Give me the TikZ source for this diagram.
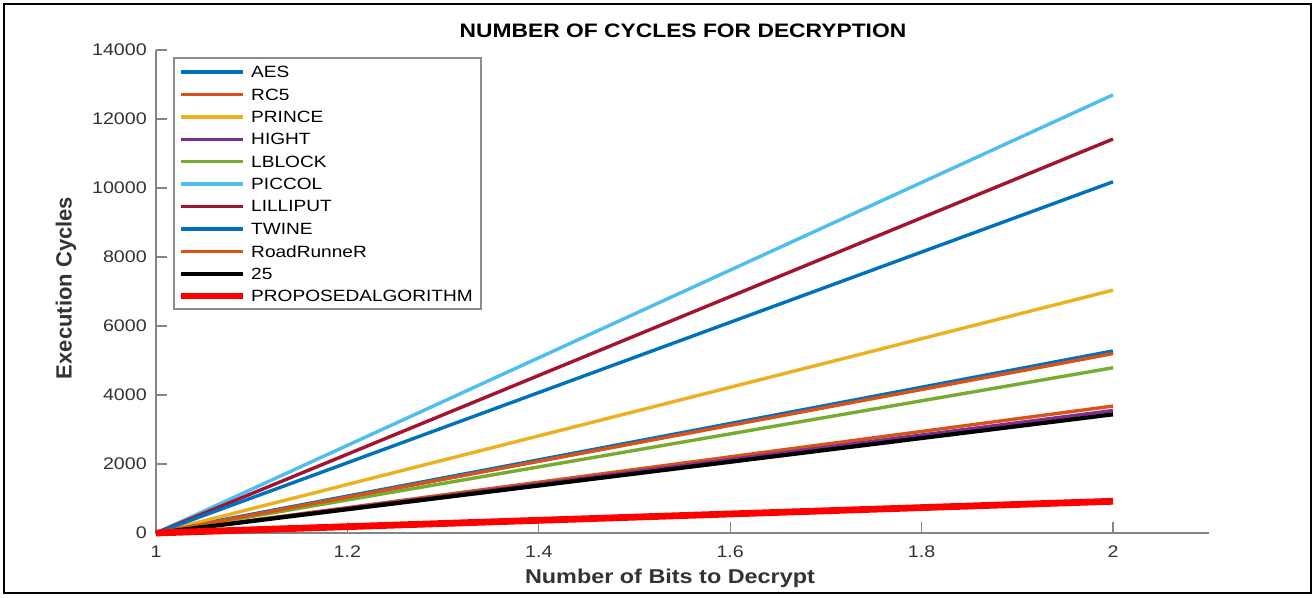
\documentclass[tikz,border=0pt]{standalone}
\usepackage{fontspec}
\setmainfont{Liberation Sans}
\definecolor{mBlue}{HTML}{0072BD}
\definecolor{mOrange}{HTML}{D95319}
\definecolor{mYellow}{HTML}{EDB120}
\definecolor{mPurple}{HTML}{7E2F8E}
\definecolor{mGreen}{HTML}{77AC30}
\definecolor{mCyan}{HTML}{4DBEEE}
\definecolor{mMaroon}{HTML}{A2142F}
\definecolor{axisgray}{HTML}{858585}
\definecolor{labelgray}{HTML}{333333}
\definecolor{legendgray}{HTML}{8C8C8C}
\tikzset{
  axisline/.style={draw=axisgray, line width=1.6pt},
  ticklab/.style={text=labelgray, font=\fontsize{16.8}{20}\selectfont, inner sep=0pt, xscale=1.17},
  axislab/.style={text=labelgray, font=\fontsize{20}{24}\selectfont\bfseries, inner sep=0pt},
  legtext/.style={text=black, font=\fontsize{16.3}{19}\selectfont, inner sep=0pt, anchor=west, xscale=1.17},
  series/.style={line width=3.4pt},
}
\begin{document}
\begin{tikzpicture}[x=1pt,y=-1pt]
\useasboundingbox (0,0) rectangle (1314,597);
\fill[white] (0,0) rectangle (1314,597);
\draw[line width=2.2pt] (4,4) rectangle (1311,593);
% title
\node[font=\fontsize{19.5}{23}\selectfont\bfseries, inner sep=0pt, xscale=1.17] (title) at (683,31) {NUMBER OF CYCLES FOR DECRYPTION};
% axis labels
\node[axislab, xscale=1.17] (xlab) at (670,578) {Number of Bits to Decrypt};
\node[axislab, rotate=90, font=\fontsize{22}{26}\selectfont\bfseries] (ylab) at (66,288) {Execution Cycles};
\begin{scope}[shift={(156,533)}, x=957pt, y=0.0345pt]
  \coordinate (O) at (0,0);
  \coordinate (xend) at (1.1,0);
  \coordinate (ytop) at (0,14000);
  \draw[axisline] (xend) -- (O) -- (ytop);
  \foreach \v in {0,2000,...,14000} {
    \draw[axisgray, line width=1.2pt] (0,\v) -- ++(11pt,0);
    \node[ticklab, anchor=east] at ([xshift=-9pt]0,\v) {\v};
  }
  \foreach \v/\t in {0/1,0.2/1.2,0.4/1.4,0.6/1.6,0.8/1.8,1/2} {
    \draw[axisgray, line width=1.2pt] (\v,0) -- ++(0,11pt);
    \node[ticklab, anchor=north] at ([yshift=-13pt]\v,0) {\t};
  }
  % series
  \draw[series, mBlue, line width=4.6pt] (O) -- (1,5260) coordinate (eAES);
  \draw[series, mOrange] (O) -- (1,3680) coordinate (eRC5);
  \draw[series, mYellow] (O) -- (1,7040) coordinate (ePRINCE);
  \draw[series, mPurple] (O) -- (1,3550) coordinate (eHIGHT);
  \draw[series, mGreen] (O) -- (1,4790) coordinate (eLBLOCK);
  \draw[series, mCyan] (O) -- (1,12700) coordinate (ePICCOL);
  \draw[series, mMaroon] (O) -- (1,11420) coordinate (eLILLIPUT);
  \draw[series, mBlue] (O) -- (1,10180) coordinate (eTWINE);
  \draw[series, mOrange] (O) -- (1,5200) coordinate (eRR);
  \draw[series, black, line width=4.2pt] (O) -- (1,3440) coordinate (e25);
  \draw[series, red, line width=6.8pt] (O) -- (1,920) coordinate (ePROP);
\end{scope}
% legend
\draw[legendgray, fill=white, line width=1.2pt] (174,58) rectangle (481,309);
\foreach \i/\c/\w/\t in {0/mBlue/4.6/AES, 1/mOrange/3.4/RC5, 2/mYellow/3.4/PRINCE, 3/mPurple/3.4/HIGHT, 4/mGreen/3.4/LBLOCK, 5/mCyan/3.4/PICCOL, 6/mMaroon/3.4/LILLIPUT, 7/mBlue/3.4/TWINE, 8/mOrange/3.4/RoadRunneR, 9/black/4.2/25, 10/red/6.8/PROPOSEDALGORITHM} {
  \coordinate (l\i a) at (181,72+22.4*\i);
  \coordinate (l\i b) at (243,72+22.4*\i);
  \draw[\c, line width=\w pt] (l\i a) -- (l\i b);
  \node[legtext] (lt\i) at (251,72+22.4*\i) {\t};
}
\end{tikzpicture}
\end{document}
